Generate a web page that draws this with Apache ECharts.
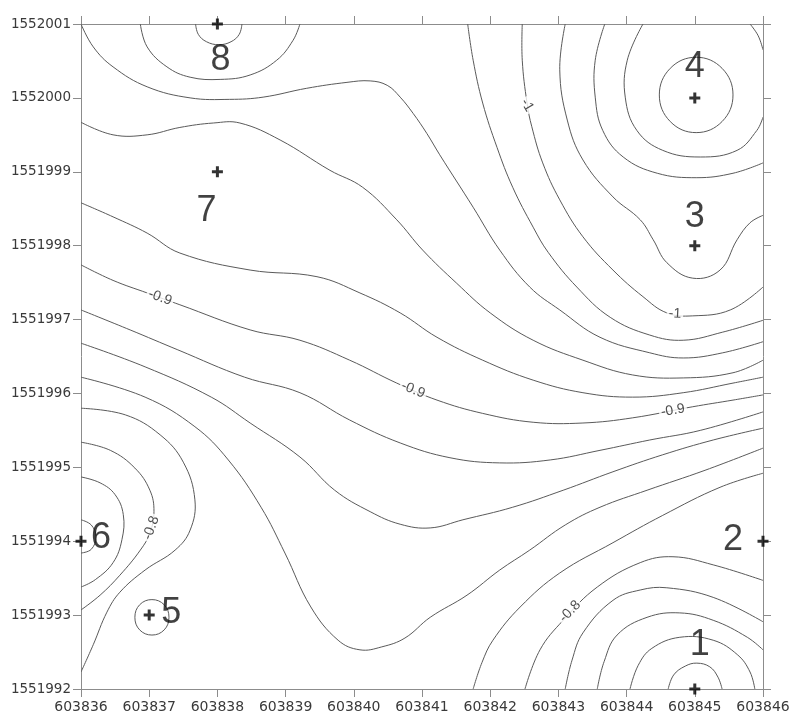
<!DOCTYPE html>
<html>
<head>
<meta charset="utf-8">
<script src="https://cdn.jsdelivr.net/npm/echarts@6/dist/echarts.min.js"></script>
<style>
  body { margin: 0; background: #fff; }
  #main { width: 796px; height: 720px; }
</style>
</head>
<body>
<div id="main"></div>
<script>
// 坐标轴刻度
var xTicks = [603836, 603846];
var yTicks = [1551992, 1552001];

// 井位 (编号, x, y)
var wellNames = ['1', '2', '3', '4', '5', '6', '7', '8'];
var wellX = [603845, 603846, 603845, 603845, 603837, 603836, 603838, 603838];
var wellY = [1551992, 1551994, 1551998, 1552000, 1551993, 1551994, 1551999, 1552001];

// 等值线 (从图上读取的坐标)
var ring8Inner = [[603837.68,1552001],[603837.72,1552000.86],[603837.84,1552000.76],[603838.02,1552000.72],[603838.20,1552000.76],[603838.32,1552000.86],[603838.36,1552001]];
var ring8Outer = [[603836.87,1552001],[603836.97,1552000.69],[603837.26,1552000.42],[603837.60,1552000.28],[603838.04,1552000.25],[603838.48,1552000.31],[603838.87,1552000.51],[603839.11,1552000.78],[603839.21,1552001]];
var lineC = [[603836,1552001],[603836.18,1552000.69],[603836.47,1552000.42],[603836.97,1552000.15],[603837.60,1552000.00],[603838.18,1551999.98],[603838.67,1552000.01],[603839.31,1552000.13],[603839.90,1552000.21],[603840.24,1552000.23],[603840.49,1552000.17],[603840.68,1552000.01],[603840.87,1551999.79],[603841.07,1551999.52],[603841.26,1551999.23],[603841.75,1551998.52],[603842.14,1551997.94],[603842.58,1551997.44],[603843.02,1551997.13],[603843.61,1551996.76],[603844.34,1551996.55],[603844.83,1551996.48],[603845.41,1551996.55],[603846,1551996.70]];
var lineD = [[603836,1551999.67],[603836.47,1551999.50],[603836.97,1551999.50],[603837.45,1551999.60],[603837.94,1551999.66],[603838.33,1551999.66],[603838.92,1551999.43],[603839.65,1551999.02],[603840.13,1551998.79],[603840.63,1551998.35],[603841.01,1551997.94],[603841.51,1551997.49],[603842.00,1551997.09],[603842.63,1551996.72],[603843.36,1551996.45],[603844.09,1551996.25],[603844.83,1551996.21],[603845.56,1551996.28],[603846,1551996.45]];
var lineE = [[603836,1551998.58],[603836.47,1551998.39],[603836.97,1551998.17],[603837.45,1551997.90],[603838.48,1551997.67],[603839.46,1551997.58],[603840.09,1551997.36],[603840.68,1551997.09],[603841.22,1551996.76],[603841.89,1551996.45],[603842.63,1551996.18],[603843.36,1551996.01],[603844.09,1551995.95],[603844.83,1551996.01],[603845.56,1551996.14],[603846,1551996.22]];
var lineF = [[603836,1551997.74],[603836.47,1551997.53],[603836.97,1551997.36],[603837.45,1551997.20],[603838.48,1551996.86],[603839.21,1551996.72],[603839.94,1551996.45],[603840.63,1551996.14],[603841.22,1551995.91],[603841.89,1551995.73],[603842.63,1551995.61],[603843.36,1551995.60],[603844.09,1551995.67],[603844.97,1551995.82],[603845.56,1551995.91],[603846,1551995.98]];
var lineG = [[603836,1551997.13],[603836.72,1551996.86],[603837.42,1551996.59],[603838.40,1551996.22],[603839.21,1551996.01],[603839.94,1551995.64],[603840.68,1551995.33],[603841.41,1551995.13],[603842.14,1551995.06],[603842.88,1551995.10],[603843.61,1551995.23],[603844.34,1551995.37],[603845.08,1551995.50],[603846,1551995.75]];
var lineH = [[603836,1551996.68],[603836.94,1551996.36],[603837.91,1551995.95],[603838.48,1551995.60],[603839.21,1551995.14],[603839.72,1551994.69],[603840.24,1551994.40],[603840.68,1551994.23],[603841.12,1551994.18],[603841.60,1551994.29],[603842.33,1551994.46],[603843.07,1551994.69],[603843.80,1551994.94],[603844.53,1551995.17],[603845.27,1551995.37],[603846,1551995.53]];
var lineI = [[603836,1551996.22],[603836.94,1551995.95],[603837.67,1551995.55],[603838.16,1551995.10],[603838.64,1551994.46],[603838.99,1551993.84],[603839.37,1551993.11],[603839.77,1551992.66],[603840.09,1551992.53],[603840.41,1551992.57],[603840.75,1551992.69],[603841.12,1551992.97],[603841.66,1551993.27],[603842.14,1551993.61],[603842.58,1551993.88],[603843.10,1551994.22],[603843.61,1551994.46],[603844.30,1551994.69],[603845.15,1551994.96],[603846,1551995.26]];
var lineTop1 = [[603841.67,1552001],[603841.75,1552000.51],[603841.89,1551999.93],[603842.10,1551999.33],[603842.33,1551998.79],[603842.63,1551998.25],[603842.85,1551997.91],[603843.27,1551997.44],[603843.76,1551997.03],[603844.34,1551996.79],[603844.83,1551996.72],[603845.41,1551996.83],[603846,1551996.99]];
var lineTop2 = [[603842.47,1552001],[603842.47,1552000.51],[603842.54,1551999.93],[603842.61,1551999.61],[603842.77,1551999.12],[603843.02,1551998.62],[603843.36,1551998.12],[603843.80,1551997.67],[603844.24,1551997.31],[603844.59,1551997.09],[603844.97,1551997.05],[603845.52,1551997.13],[603846,1551997.44]];
var curve3 = [[603843.10,1552001],[603843.02,1552000.38],[603843.13,1551999.70],[603843.36,1551999.16],[603843.80,1551998.66],[603844.20,1551998.35],[603844.39,1551998.08],[603844.59,1551997.77],[603844.97,1551997.56],[603845.37,1551997.67],[603845.62,1551998.08],[603845.81,1551998.31],[603846,1551998.41]];
var ring4c = [[603843.68,1552001],[603843.54,1552000.51],[603843.54,1552000.01],[603843.65,1551999.56],[603843.95,1551999.20],[603844.45,1551998.98],[603845.03,1551998.92],[603845.56,1551998.98],[603846,1551999.12]];
var ring4b = [[603844.24,1552001],[603844.01,1552000.51],[603843.98,1552000.01],[603844.15,1551999.56],[603844.53,1551999.29],[603845.08,1551999.20],[603845.62,1551999.29],[603845.91,1551999.56],[603846,1551999.74]];
var ring4bCorner = [[603845.81,1552001],[603845.93,1552000.84],[603846,1552000.65]];
var ring4Inner = [[603845.56,1552000.04],[603845.40,1552000.40],[603845.02,1552000.55],[603844.64,1552000.40],[603844.48,1552000.04],[603844.64,1551999.68],[603845.02,1551999.53],[603845.40,1551999.68],[603845.56,1552000.04]];
var ring6a = [[603836,1551994.29],[603836.15,1551994.22],[603836.22,1551994.06],[603836.15,1551993.89],[603836,1551993.84]];
var ring6b = [[603836,1551994.87],[603836.28,1551994.79],[603836.50,1551994.63],[603836.62,1551994.36],[603836.60,1551994.02],[603836.47,1551993.71],[603836.21,1551993.48],[603836,1551993.38]];
var ring6c = [[603836,1551995.34],[603836.43,1551995.23],[603836.79,1551994.99],[603837.01,1551994.69],[603837.07,1551994.40],[603837.01,1551994.11],[603836.87,1551993.88],[603836.57,1551993.54],[603836.28,1551993.27],[603836,1551993.07]];
var ring6d = [[603836,1551995.80],[603836.65,1551995.71],[603837.16,1551995.44],[603837.50,1551995.07],[603837.67,1551994.56],[603837.60,1551994.15],[603837.38,1551993.88],[603836.94,1551993.61],[603836.57,1551993.31],[603836.38,1551993.04],[603836.18,1551992.60],[603836,1551992.23]];
var ring5 = [[603837.29,1551992.97],[603837.22,1551993.14],[603837.04,1551993.21],[603836.86,1551993.14],[603836.79,1551992.97],[603836.86,1551992.80],[603837.04,1551992.73],[603837.22,1551992.80],[603837.29,1551992.97]];
var lineAlpha = [[603841.75,1551992],[603841.88,1551992.36],[603842.04,1551992.66],[603842.44,1551993.11],[603843.02,1551993.57],[603843.80,1551993.98],[603844.53,1551994.35],[603845.37,1551994.73],[603846,1551994.92]];
var lineBeta = [[603842.51,1551992],[603842.73,1551992.53],[603843.07,1551992.93],[603843.57,1551993.38],[603844.20,1551993.71],[603844.68,1551993.79],[603845.27,1551993.68],[603846,1551993.47]];
var lineGamma = [[603843.10,1551992],[603843.20,1551992.39],[603843.36,1551992.76],[603843.80,1551993.20],[603844.20,1551993.34],[603844.59,1551993.37],[603845.27,1551993.24],[603846,1551992.91]];
var lineDelta = [[603843.57,1551992],[603843.67,1551992.37],[603843.86,1551992.73],[603844.30,1551992.97],[603844.78,1551993.03],[603845.27,1551992.93],[603845.77,1551992.70],[603846,1551992.53]];
var lineEps = [[603844.05,1551992],[603844.17,1551992.32],[603844.37,1551992.55],[603844.78,1551992.70],[603845.27,1551992.66],[603845.63,1551992.46],[603845.81,1551992.23],[603845.88,1551992]];
var ring1Inner = [[603844.61,1551992],[603844.69,1551992.19],[603844.86,1551992.31],[603845.03,1551992.35],[603845.22,1551992.30],[603845.34,1551992.16],[603845.40,1551992]];

// 等值线标注 (文字, x, y, 旋转角度)
var tagText = ['-1', '-1', '-0.9', '-0.9', '-0.9', '-0.8', '-0.8'];
var tagX = [603842.54, 603844.71, 603837.16, 603840.87, 603844.68, 603837.03, 603843.17];
var tagY = [1551999.90, 1551997.08, 1551997.30, 1551996.05, 1551995.77, 1551994.18, 1551993.05];
var tagRot = [-60, -3, -20, -22, 10, 70, 45];

var contours = [ring8Inner, ring8Outer, lineC, lineD, lineE, lineF, lineG, lineH, lineI,
  lineTop1, lineTop2, curve3, ring4c, ring4b, ring4bCorner, ring4Inner,
  ring6a, ring6b, ring6c, ring6d, ring5,
  lineAlpha, lineBeta, lineGamma, lineDelta, lineEps, ring1Inner];

var myChart = echarts.init(document.getElementById('main'));

// 每条等值线一个 custom 系列, 用坐标轴换算后画平滑曲线
function contourRender(line) {
  var closed = line[0][0] === line[line.length - 1][0] && line[0][1] === line[line.length - 1][1];
  return function (params, api) {
    if (params.dataIndex !== 0) return;
    var pts = [];
    var n = closed ? line.length - 1 : line.length;
    for (var j = 0; j < n; j++) {
      pts.push(api.coord(line[j]));
    }
    return {
      type: closed ? 'polygon' : 'polyline',
      shape: { points: pts, smooth: 0.4 },
      style: { stroke: '#5a5a5a', lineWidth: 1, fill: null }
    };
  };
}

var series = [];
for (var i = 0; i < contours.length; i++) {
  series.push({
    type: 'custom',
    data: contours[i],
    renderItem: contourRender(contours[i]),
    clip: true,
    silent: true,
    z: 2
  });
}

// 等值线数值标签
var tagData = [];
for (var i = 0; i < tagText.length; i++) {
  tagData.push({
    value: [tagX[i], tagY[i]],
    label: { formatter: tagText[i], rotate: tagRot[i] }
  });
}
series.push({
  type: 'scatter',
  data: tagData,
  symbolSize: 1,
  itemStyle: { color: 'rgba(0,0,0,0)' },
  silent: true,
  clip: false,
  z: 4,
  label: {
    show: true,
    position: 'inside',
    fontFamily: 'Liberation Sans',
    fontSize: 14,
    color: '#222',
    backgroundColor: '#fff',
    padding: [0, 2]
  }
});

// 井位标记
var offsets = [[5, -44], [-30, -1], [0, -29], [0, -31], [22, -2], [20, -3], [-11, 39], [3, 36]];
var wellData = [];
for (var i = 0; i < wellNames.length; i++) {
  wellData.push({
    value: [wellX[i], wellY[i]],
    label: { formatter: wellNames[i], offset: offsets[i] }
  });
}
series.push({
  type: 'scatter',
  data: wellData,
  symbol: 'path://M4,0H7V4H11V7H7V11H4V7H0V4H4Z',
  symbolSize: 11,
  itemStyle: { color: '#000' },
  clip: false,
  silent: true,
  z: 5,
  label: {
    show: true,
    position: 'inside',
    fontFamily: 'Liberation Sans',
    fontSize: 36,
    color: '#111'
  }
});

var axisLineStyle = { lineStyle: { color: '#8c8c8c', width: 1 } };
var tickStyle = { show: true, inside: false, length: 8, lineStyle: { color: '#8c8c8c' } };

var option = {
  animation: false,
  backgroundColor: '#fff',
  grid: { left: 81, right: 33, top: 24, bottom: 31, containLabel: false },
  xAxis: [
    {
      type: 'value', position: 'bottom',
      min: xTicks[0], max: xTicks[1], interval: 1,
      axisLine: axisLineStyle, axisTick: tickStyle,
      splitLine: { show: false },
      axisLabel: {
        margin: 11, color: '#3a3a3a', fontFamily: 'DejaVu Sans', fontSize: 14,
        formatter: function (v) { return String(v); }
      }
    },
    {
      type: 'value', position: 'top',
      min: xTicks[0], max: xTicks[1], interval: 1,
      axisLine: axisLineStyle, axisTick: tickStyle,
      splitLine: { show: false }, axisLabel: { show: false }
    }
  ],
  yAxis: [
    {
      type: 'value', position: 'left',
      min: yTicks[0], max: yTicks[1], interval: 1,
      axisLine: axisLineStyle, axisTick: tickStyle,
      splitLine: { show: false },
      axisLabel: {
        margin: 10, color: '#3a3a3a', fontFamily: 'DejaVu Sans', fontSize: 13.5,
        formatter: function (v) { return String(v); }
      }
    },
    {
      type: 'value', position: 'right',
      min: yTicks[0], max: yTicks[1], interval: 1,
      axisLine: axisLineStyle, axisTick: tickStyle,
      splitLine: { show: false }, axisLabel: { show: false }
    }
  ],
  series: series
};

myChart.setOption(option);
</script>
</body>
</html>
